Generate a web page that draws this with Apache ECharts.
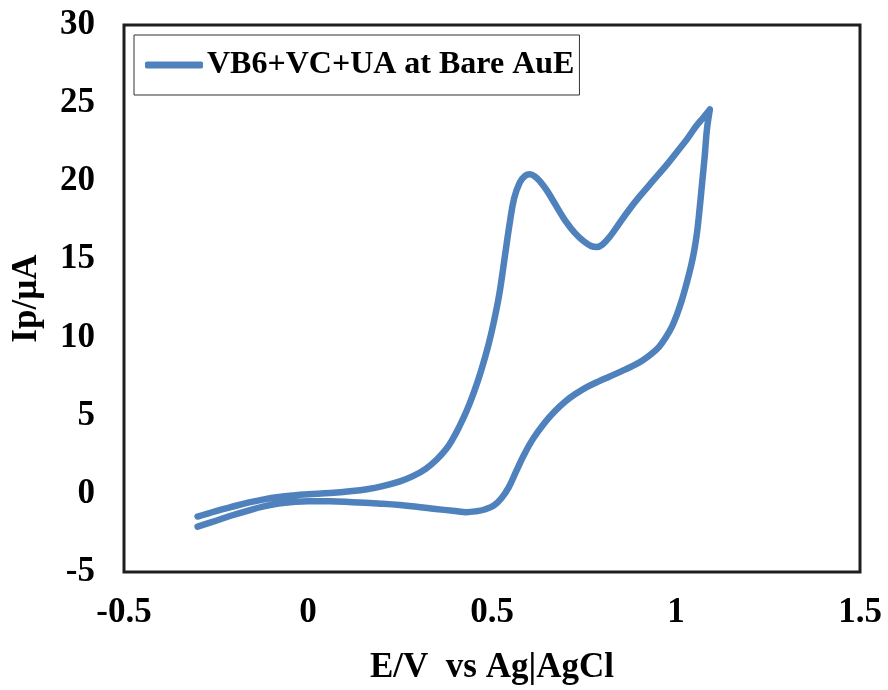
<!DOCTYPE html>
<html>
<head>
<meta charset="utf-8">
<script src="https://cdn.jsdelivr.net/npm/echarts@6/dist/echarts.min.js"></script>
<style>
  html, body { margin: 0; padding: 0; background: #fff; }
  #chart { width: 888px; height: 690px; }
</style>
</head>
<body>
<div id="chart"></div>
<script>
// Cyclic voltammogram: anodic sweep from -0.3 V to 1.09 V, then the return sweep.
const forwardE = [-0.30, -0.25, -0.21, -0.16, -0.12, -0.08, -0.04, 0.00, 0.06, 0.12,
  0.16, 0.20, 0.25, 0.285, 0.32, 0.35, 0.375, 0.393, 0.41, 0.43,
  0.45, 0.47, 0.49, 0.505, 0.52, 0.535, 0.548, 0.56, 0.575, 0.59,
  0.603, 0.617, 0.632, 0.648, 0.665, 0.68, 0.70, 0.725, 0.75, 0.77,
  0.785, 0.80, 0.82, 0.84, 0.87, 0.90, 0.94, 0.973, 1.00, 1.03,
  1.054, 1.075, 1.092];
const forwardI = [-1.45, -1.1, -0.85, -0.55, -0.35, -0.2, -0.1, -0.03, 0.05, 0.18,
  0.3, 0.48, 0.8, 1.13, 1.6, 2.2, 2.85, 3.5, 4.25, 5.25,
  6.45, 7.85, 9.5, 11.0, 12.8, 15.2, 17.3, 18.9, 19.9, 20.35,
  20.45, 20.3, 19.95, 19.45, 18.8, 18.2, 17.45, 16.7, 16.15, 15.85,
  15.8, 15.95, 16.45, 17.1, 18.1, 19.0, 20.1, 21.0, 21.8, 22.7,
  23.5, 24.1, 24.6];
const reverseE = [1.084, 1.078, 1.071, 1.064, 1.057, 1.049, 1.04, 1.028, 1.016, 1.003,
  0.989, 0.972, 0.954, 0.932, 0.908, 0.88, 0.854, 0.82, 0.79, 0.76,
  0.73, 0.70, 0.67, 0.64, 0.61, 0.585, 0.565, 0.545, 0.525, 0.505,
  0.48, 0.455, 0.43, 0.40, 0.34, 0.25, 0.19, 0.12, 0.06, 0.00,
  -0.04, -0.08, -0.12, -0.16, -0.21, -0.25, -0.30];
const reverseI = [23.3, 21.6, 19.9, 18.2, 16.7, 15.5, 14.5, 13.4, 12.4, 11.5,
  10.7, 10.0, 9.41, 8.93, 8.52, 8.16, 7.87, 7.51, 7.2, 6.86,
  6.44, 5.93, 5.27, 4.46, 3.47, 2.4, 1.4, 0.4, -0.3, -0.75,
  -1.0, -1.12, -1.17, -1.1, -0.95, -0.72, -0.62, -0.53, -0.47, -0.47,
  -0.52, -0.62, -0.8, -1.05, -1.4, -1.72, -2.1];

const xTicks = [-0.5, 0, 0.5, 1, 1.5];
const yTicks = [-5, 0, 5, 10, 15, 20, 25, 30];
const seriesName = 'VB6+VC+UA at Bare AuE';

const curve = forwardE.map((e, i) => [e, forwardI[i]])
  .concat(reverseE.map((e, i) => [e, reverseI[i]]));

const font = '"Liberation Serif", "Times New Roman", serif';
const chart = echarts.init(document.getElementById('chart'), null, { renderer: 'canvas' });

chart.setOption({
  animation: false,
  backgroundColor: '#ffffff',
  grid: {
    left: 124, right: 28, top: 25, bottom: 116,
    show: true, borderColor: '#1e1e1e', borderWidth: 3, backgroundColor: '#fff'
  },
  legend: {
    left: 134, top: 35,
    orient: 'vertical',
    data: [{ name: seriesName, icon: 'roundRect' }],
    itemWidth: 58, itemHeight: 7, itemGap: 0,
    padding: [14, 5, 14, 11],
    borderColor: '#333', borderWidth: 1,
    textStyle: { fontFamily: font, fontWeight: 'bold', fontSize: 32, color: '#000', padding: [0, 0, 0, -1] }
  },
  xAxis: {
    type: 'value',
    min: xTicks[0], max: xTicks[xTicks.length - 1], interval: 0.5,
    name: 'E/V  vs Ag|AgCl',
    nameLocation: 'middle', nameGap: 78,
    nameTextStyle: { fontFamily: font, fontWeight: 'bold', fontSize: 35, color: '#000' },
    axisLine: { show: false }, axisTick: { show: false }, splitLine: { show: false },
    axisLabel: { fontFamily: font, fontWeight: 'bold', fontSize: 35, color: '#000', margin: 23 }
  },
  yAxis: {
    type: 'value',
    min: yTicks[0], max: yTicks[yTicks.length - 1], interval: 5,
    name: 'Ip/µA',
    nameLocation: 'middle', nameGap: 80,
    nameTextStyle: { fontFamily: font, fontWeight: 'bold', fontSize: 35, color: '#000' },
    axisLine: { show: false }, axisTick: { show: false }, splitLine: { show: false },
    axisLabel: { fontFamily: font, fontWeight: 'bold', fontSize: 35, color: '#000', margin: 29 }
  },
  series: [{
    name: seriesName,
    type: 'line',
    data: curve,
    smooth: 0.4,
    symbol: 'none',
    clip: false,
    lineStyle: { color: '#4F81BD', width: 6.5, cap: 'round', join: 'round' },
    itemStyle: { color: '#4F81BD' }
  }]
});
</script>
</body>
</html>
